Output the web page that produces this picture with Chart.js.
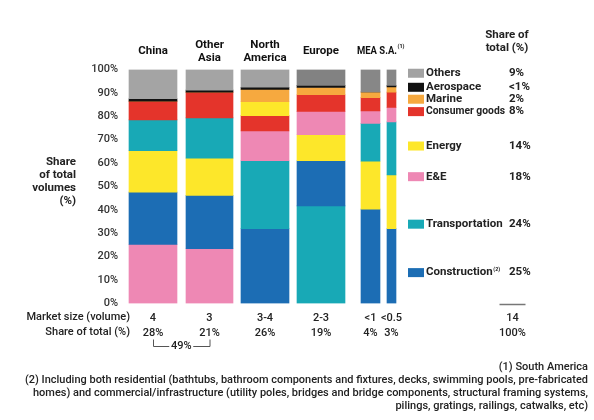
<!DOCTYPE html>
<html>
<head>
<meta charset="utf-8">
<script src="https://cdn.jsdelivr.net/npm/chart.js@4/dist/chart.umd.min.js"></script>
<style>
  html, body { margin: 0; padding: 0; background: #fff; }
  #wrap { width: 594px; height: 420px; position: relative; }
</style>
</head>
<body>
<div id="wrap"><canvas id="grafica"></canvas></div>
<script>
// ===== Data =====
const regions = ["China", "Other Asia", "North America", "Europe", "MEA", "S.A."];
const regionHeaders = [["China"], ["Other", "Asia"], ["North", "America"], ["Europe"]];
const marketSize = ["4", "3", "3-4", "2-3", "<1", "<0.5"];
const regionShare = ["28%", "21%", "26%", "19%", "4%", "3%"];
const totalSize = "14";
const totalShare = "100%";

const segments = ["Others", "Aerospace", "Marine", "Consumer goods", "Energy", "E&E", "Transportation", "Construction"];
const segmentShare = ["9%", "<1%", "2%", "8%", "14%", "18%", "24%", "25%"];

// share of volumes per region (%)
const construction   = [22.3, 22.8, 32.0, 19.3, 40.3, 32.0];
const transportation = [13.2, 17.2, 29.0, 41.7, 16.2, 22.6];
const eAndE          = [25.3, 23.4, 12.8, 10.0, 5.3, 6.2];
const energy         = [17.7, 15.9, 5.9, 11.1, 20.5, 23.0];
const consumerGoods  = [8.0, 11.0, 6.5, 7.1, 5.7, 6.5];
const marine         = [0, 0, 5.3, 3.1, 2.4, 2.3];
const aerospace      = [1.0, 0.9, 0.9, 0.9, 0, 0.6];
const others         = [12.5, 8.8, 7.6, 6.8, 9.6, 6.8];

// stacking order, bottom to top, per region
const stackOrder = [
  ["E&E", "Construction", "Energy", "Transportation", "Consumer goods", "Marine", "Aerospace", "Others"],
  ["E&E", "Construction", "Energy", "Transportation", "Consumer goods", "Marine", "Aerospace", "Others"],
  ["Construction", "Transportation", "E&E", "Consumer goods", "Energy", "Marine", "Aerospace", "Others"],
  ["Transportation", "Construction", "Energy", "E&E", "Consumer goods", "Marine", "Aerospace", "Others"],
  ["Construction", "Energy", "Transportation", "E&E", "Consumer goods", "Marine", "Aerospace", "Others"],
  ["Construction", "Energy", "Transportation", "E&E", "Consumer goods", "Marine", "Aerospace", "Others"]
];

const segmentValues = {
  "Others": others, "Aerospace": aerospace, "Marine": marine, "Consumer goods": consumerGoods,
  "Energy": energy, "E&E": eAndE, "Transportation": transportation, "Construction": construction
};

// ===== Estilos / layout =====
const colores = {
  "Others": "#a2a2a2", "Aerospace": "#111111", "Marine": "#f6a93f", "Consumer goods": "#e4342b",
  "Energy": "#fde72a", "E&E": "#ee88b4", "Transportation": "#18a9b6", "Construction": "#1c6db4"
};
const othersShade = ["#a4a4a4", "#a4a4a4", "#a2a2a2", "#828282", "#878787", "#878787"];
const anchoCol = [48, 47, 48, 48, 19, 9];
const huecoCol = [5, 9, 8, 8, 16, 7];
const totalCentro = 388.5;
const legendaY = [98.4, 92.4, 87.3, 82.0, 67.3, 54.2, 33.9, 13.2];
const FONT = "Roboto, 'DejaVu Sans', sans-serif";

// column centres on the x axis (1 unit = 1 px)
const centros = [];
let cursor = 0;
anchoCol.forEach((w, i) => {
  cursor += huecoCol[i];
  centros.push(cursor + w / 2);
  cursor += w;
});

// ===== Datasets =====
const datasets = regions.map((region, i) => {
  let base = 0;
  const data = [];
  const colors = [];
  stackOrder[i].forEach(name => {
    const v = segmentValues[name][i];
    data.push({ x: centros[i], y: [base, base + v] });
    colors.push(name === "Others" ? othersShade[i] : colores[name]);
    base += v;
  });
  return { label: region, data, backgroundColor: colors, barThickness: anchoCol[i], borderWidth: 0 };
});

// ===== Texto extra =====
function texto(ctx, str, x, y, align, size, weight, color, maxW) {
  ctx.font = weight + " " + size + "px " + FONT;
  ctx.fillStyle = color;
  ctx.textAlign = align;
  ctx.textBaseline = "middle";
  if (maxW) ctx.fillText(str, x, y, maxW); else ctx.fillText(str, x, y);
}

const extras = {
  id: "extras",
  afterDraw(chart) {
    const ctx = chart.ctx;
    const xs = chart.scales.x;
    const ys = chart.scales.y;
    const area = chart.chartArea;
    ctx.save();

    // headers
    regionHeaders.forEach((lines, i) => {
      const cx = xs.getPixelForValue(centros[i]);
      const ys0 = lines.length === 1 ? [51.5] : [45, 58.3];
      lines.forEach((l, k) => texto(ctx, l, cx, ys0[k], "center", 11.5, "bold", "#111"));
    });
    const mx = xs.getPixelForValue(centros[4]) - anchoCol[4] / 2 - 4;
    texto(ctx, "MEA S.A.", mx, 51.5, "left", 11.5, "bold", "#111", 40);
    texto(ctx, "(1)", mx + 40.5, 47, "left", 5.5, "bold", "#111");

    // y title
    ["Share", "of total", "volumes", "(%)"].forEach((l, k) =>
      texto(ctx, l, 76, 162 + 13 * k, "right", 11.5, "bold", "#222"));

    // row labels
    texto(ctx, "Market size (volume)", 130, area.bottom + 14, "right", 11, "500", "#222");
    texto(ctx, "Share of total (%)", 130, area.bottom + 28.5, "right", 11, "500", "#222");

    // 49% bracket
    const bx1 = xs.getPixelForValue(centros[0]);
    const bx2 = xs.getPixelForValue(centros[1]);
    const by = 346.5;
    ctx.strokeStyle = "#555";
    ctx.lineWidth = 1;
    ctx.beginPath();
    ctx.moveTo(bx1 + 0.5, 339.5); ctx.lineTo(bx1 + 0.5, by); ctx.lineTo((bx1 + bx2) / 2 - 12, by);
    ctx.moveTo((bx1 + bx2) / 2 + 12, by); ctx.lineTo(bx2 + 0.5, by); ctx.lineTo(bx2 + 0.5, 339.5);
    ctx.stroke();
    texto(ctx, "49%", (bx1 + bx2) / 2, by, "center", 11, "500", "#222");

    // legend header
    const lx = 408;
    const vx = 509;
    texto(ctx, "Share of", 507, 35, "center", 11.5, "bold", "#222");
    texto(ctx, "total (%)", 507, 48.3, "center", 11.5, "bold", "#222");

    // legend
    segments.forEach((s, k) => {
      const y = ys.getPixelForValue(legendaY[k]);
      ctx.fillStyle = colores[s];
      ctx.fillRect(lx, y - 4.5, 16, 9);
      texto(ctx, s, lx + 18, y, "left", 11.5, "bold", "#222", 79);
      if (s === "Construction") {
        const w = Math.min(ctx.measureText(s).width, 79);
        texto(ctx, "(2)", lx + 18 + w + 0.5, y - 3, "left", 5.5, "bold", "#222");
      }
      texto(ctx, segmentShare[k], vx, y, "left", 11.5, "bold", "#222");
    });

    // line above total
    const tx = xs.getPixelForValue(totalCentro);
    ctx.strokeStyle = "#777";
    ctx.lineWidth = 1.5;
    ctx.beginPath();
    ctx.moveTo(tx - 13, 304.5); ctx.lineTo(tx + 13, 304.5);
    ctx.stroke();

    // footnotes
    texto(ctx, "(1) South America", 588, 367.5, "right", 11, "500", "#222");
    texto(ctx, "(2) Including both residential (bathtubs, bathroom components and fixtures, decks, swimming pools, pre-fabricated",
      588, 380.5, "right", 11, "500", "#222", 563);
    texto(ctx, "homes) and commercial/infrastructure (utility poles, bridges and bridge components, structural framing systems,",
      588, 393.5, "right", 11, "500", "#222", 558);
    texto(ctx, "pilings, gratings, railings, catwalks, etc)", 588, 406.5, "right", 11, "500", "#222");

    ctx.restore();
  }
};

// ===== Gráfica =====
new Chart(document.getElementById("grafica"), {
  type: "bar",
  data: { datasets },
  options: {
    responsive: true,
    maintainAspectRatio: false,
    animation: false,
    events: [],
    grouped: false,
    layout: { padding: { top: 69.5, right: 54, bottom: 66.5, left: 0 } },
    plugins: { legend: { display: false }, tooltip: { enabled: false } },
    scales: {
      x: {
        type: "linear",
        min: 0,
        max: 416,
        offset: false,
        grid: { display: false, drawTicks: false },
        border: { display: false },
        afterBuildTicks: ax => { ax.ticks = centros.concat([totalCentro]).map(v => ({ value: v })); },
        afterFit: ax => { ax.height = 50; },
        ticks: {
          autoSkip: false,
          maxRotation: 0,
          padding: 8,
          color: "#222",
          font: { family: FONT, size: 11, weight: "500", lineHeight: 1.3 },
          callback: (v, i) => i < regions.length ? [marketSize[i], regionShare[i]] : [totalSize, totalShare]
        }
      },
      y: {
        min: 0,
        max: 100,
        grid: { display: false, drawTicks: false },
        border: { display: false },
        afterFit: ax => { ax.width = 124; },
        ticks: {
          stepSize: 10,
          padding: 6,
          color: "#333",
          font: { family: FONT, size: 11, weight: "500" },
          callback: v => v + "%"
        }
      }
    }
  },
  plugins: [extras]
});
</script>
</body>
</html>
